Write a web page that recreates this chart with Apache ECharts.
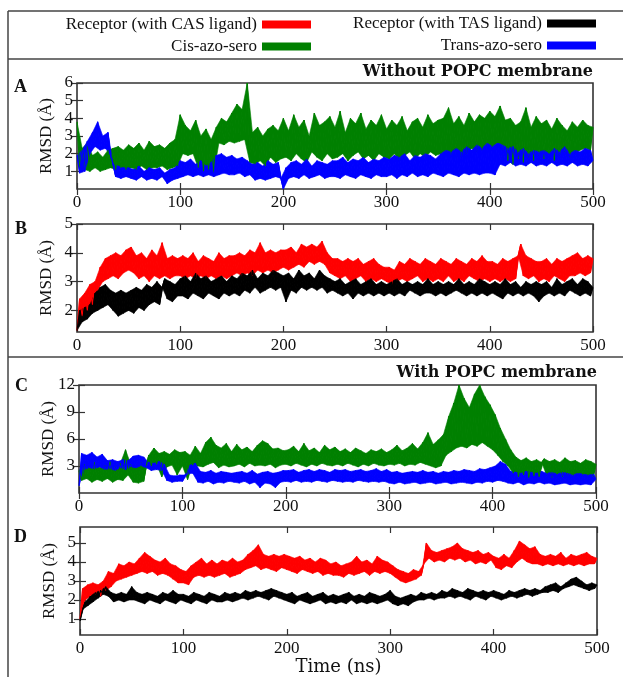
<!DOCTYPE html>
<html>
<head>
<meta charset="utf-8">
<title>RMSD</title>
<script src="https://cdn.jsdelivr.net/npm/echarts@6/dist/echarts.min.js"></script>
<style>
html,body{margin:0;padding:0;background:#fff;}
#chart{width:623px;height:677px;}
</style>
</head>
<body>
<div id="chart"></div>
<script>
/* time step of every series (ns) */
const STEP = 2.5;

const seriesNames = ["Receptor (with CAS ligand)", "Cis-azo-sero", "Receptor (with TAS ligand)", "Trans-azo-sero"];

/* A : without membrane, ligands */
const aCis = [
  3.8,1.2,2.3,1.1,2.6,1.0,1.9,1.2,2.1,1.0,1.8,1.1,2.2,1.2,2.3,1.1,2.4,1.2,2.2,1.1,
  2.5,1.2,2.3,1.1,2.6,1.3,2.2,1.1,2.7,1.2,2.4,1.2,2.5,1.3,2.3,1.1,2.6,1.2,2.8,1.3,
  4.2,2.0,3.6,1.9,3.3,2.0,3.9,1.2,3.0,1.0,3.4,1.1,2.8,0.9,3.5,2.6,4.0,2.5,3.8,2.7,
  4.3,2.6,4.8,2.7,4.5,2.8,6.0,1.5,3.2,1.4,3.5,1.6,3.0,1.3,3.4,1.8,3.6,1.5,3.3,1.7,
  4.0,1.8,3.3,1.6,4.2,2.0,3.5,1.7,3.9,1.5,3.0,2.1,4.3,1.8,3.6,1.6,3.8,2.0,4.1,1.7,
  3.5,1.8,4.4,2.0,3.2,1.6,4.0,1.9,3.7,2.1,4.3,1.7,3.4,1.9,3.9,1.6,3.6,2.0,4.2,1.8,
  3.4,1.7,3.9,2.0,3.6,1.6,4.1,1.9,3.3,2.1,3.8,1.7,4.0,2.0,3.5,1.8,4.2,2.1,3.7,1.9,
  3.9,2.0,4.0,2.1,4.6,1.9,3.7,2.2,4.1,1.8,3.6,2.0,4.3,2.3,3.8,2.1,4.2,2.2,4.0,2.4,
  4.4,2.3,4.1,2.6,4.7,2.2,3.9,1.6,4.0,1.4,3.6,1.7,3.8,1.5,4.6,1.8,3.5,1.6,4.1,1.9,
  3.7,1.7,3.9,2.0,3.4,1.6,4.0,1.9,3.6,2.1,3.3,1.8,3.8,2.0,3.5,2.2,3.9,2.3,3.6,2.2,
  3.5
];
const aTrans = [
  1.9,0.9,2.2,1.0,2.7,2.0,3.2,2.4,3.8,2.2,3.0,2.3,3.2,1.9,1.4,0.7,1.3,0.6,1.2,0.7,
  1.2,0.6,1.1,0.5,1.3,0.7,1.0,0.5,1.2,0.6,1.1,0.5,1.2,0.7,0.9,0.3,1.1,0.5,1.2,0.6,
  1.6,0.7,1.5,0.8,1.7,0.7,1.4,0.8,1.6,0.7,1.3,0.8,1.5,0.7,1.9,0.8,2.0,0.9,1.8,0.8,
  1.9,0.8,1.7,0.9,1.8,0.7,1.6,0.8,1.4,0.5,1.5,0.6,1.3,0.5,1.6,0.6,1.4,0.7,1.5,0.6,
  0.0,1.2,0.6,1.5,0.7,1.6,0.6,1.4,0.8,1.7,0.6,1.3,0.7,1.6,0.8,1.5,0.6,1.4,0.7,1.6,
  0.7,1.6,0.6,1.8,0.8,1.5,0.7,1.7,0.6,1.6,0.8,1.8,0.7,1.5,0.6,1.7,0.8,1.6,0.7,1.8,
  0.7,1.7,0.8,1.9,0.6,1.8,0.8,2.0,0.7,1.6,0.9,1.9,0.7,1.8,0.8,2.0,0.7,1.9,0.9,1.7,
  0.8,2.0,0.7,2.2,0.9,2.1,0.8,2.3,0.7,2.1,0.9,2.4,0.8,2.2,0.9,2.5,0.8,2.3,0.9,2.6,
  0.9,2.4,0.8,2.6,1.4,2.5,1.3,2.3,1.5,2.4,1.3,2.1,1.4,2.3,1.3,2.0,1.5,2.2,1.3,2.1,
  1.4,2.2,1.3,2.0,1.5,2.3,1.3,2.1,1.4,2.4,1.3,2.0,1.5,2.2,1.3,2.1,1.4,2.3,1.3,2.2,
  1.6
];

/* B : without membrane, receptors */
const bCas = [
  1.3,2.4,1.8,2.6,2.0,2.9,2.2,3.0,2.7,3.5,3.0,3.8,3.1,3.9,3.2,4.0,3.1,3.9,3.3,4.1,
  3.4,4.2,3.3,3.9,3.1,4.0,3.2,3.8,3.0,4.1,3.2,3.9,3.1,4.35,3.2,3.8,3.1,3.9,3.2,3.8,
  3.2,3.9,3.1,3.8,3.2,4.0,3.1,3.7,3.2,3.9,3.1,3.8,3.2,3.7,3.1,4.0,3.2,3.8,3.1,3.9,
  3.2,3.9,3.3,4.0,3.2,3.9,3.3,4.1,3.2,4.0,3.4,4.35,3.3,4.0,3.4,4.1,3.3,4.0,3.4,4.1,
  3.5,4.1,3.4,4.2,3.5,4.0,3.6,4.3,3.5,4.2,3.7,4.3,3.6,4.2,3.7,4.4,3.6,4.0,3.3,3.8,
  3.2,3.8,3.1,3.7,3.2,3.8,3.0,3.7,3.1,3.8,3.2,3.6,3.0,3.7,3.1,3.8,3.0,3.6,3.1,3.5,
  3.0,3.5,2.9,3.4,3.0,3.7,3.1,3.6,3.0,3.8,3.1,3.7,3.2,3.6,3.0,3.8,3.1,3.7,3.0,3.6,
  3.1,3.8,3.0,3.7,3.2,3.6,3.0,3.8,3.1,3.7,3.0,3.6,3.2,3.8,3.1,3.7,3.0,3.9,3.1,3.7,
  3.0,3.7,3.1,3.6,3.0,3.8,3.1,3.7,3.0,3.8,3.1,3.9,4.3,3.2,3.9,3.1,3.8,3.2,3.7,3.0,
  3.7,3.1,3.8,3.0,3.6,3.2,3.8,3.1,3.7,3.0,3.8,3.2,3.9,3.2,4.0,3.3,3.8,3.2,3.9,3.3,
  3.8
];
const bTas = [
  1.3,2.0,1.6,2.1,1.7,2.2,1.9,2.6,2.0,2.8,2.1,2.9,2.2,2.7,2.0,2.6,1.8,2.7,1.9,2.6,
  2.0,2.7,1.9,2.8,2.1,2.7,2.0,2.9,2.2,2.8,2.3,3.0,2.2,2.8,3.1,2.4,3.0,2.3,2.9,2.5,
  3.1,2.5,3.2,2.4,3.0,2.6,3.3,2.5,3.1,2.4,3.2,2.6,3.0,2.5,3.1,2.4,3.2,2.6,3.0,2.5,
  3.2,2.6,3.1,2.5,3.3,2.7,3.2,2.6,3.4,2.8,3.1,2.6,3.3,2.7,3.2,2.8,3.4,2.7,3.3,2.8,
  3.2,2.3,3.3,2.7,3.1,2.6,3.4,2.8,3.2,2.7,3.3,2.8,3.1,2.7,3.4,2.8,3.2,2.6,3.1,2.7,
  3.0,2.6,3.1,2.5,2.9,2.6,3.0,2.4,3.1,2.6,2.9,2.5,3.0,2.6,3.1,2.5,2.9,2.6,3.0,2.5,
  2.9,2.6,3.0,2.5,3.1,2.6,2.9,2.5,3.0,2.7,2.9,2.6,3.0,2.5,2.9,2.6,3.1,2.6,2.9,2.5,
  3.0,2.6,2.9,2.5,3.0,2.6,2.9,2.7,3.1,2.6,2.9,2.5,3.0,2.6,2.9,2.5,3.1,2.6,3.0,2.5,
  2.9,2.6,3.0,2.5,2.9,2.4,3.1,2.6,2.9,2.5,3.0,2.6,2.8,2.5,3.0,2.6,2.9,2.5,3.0,2.3,
  2.9,2.5,3.0,2.6,2.8,2.5,3.1,2.6,2.9,2.5,3.0,2.7,3.1,2.6,2.9,2.5,3.1,2.6,3.0,2.5,
  2.8
];

/* C : with POPC membrane, ligands */
const cCis = [
  2.5,1.4,3.2,1.6,3.0,1.2,3.4,1.5,2.8,1.3,3.1,1.6,3.5,1.2,2.9,1.5,3.3,1.4,4.8,2.0,
  3.2,1.2,2.8,1.1,3.4,1.3,3.0,4.2,3.0,5.0,3.2,4.4,1.8,4.6,2.9,4.3,3.1,4.8,2.0,4.5,
  3.0,4.6,1.5,4.2,3.1,5.2,3.0,4.4,2.9,5.6,3.2,6.2,3.4,5.3,2.8,5.0,3.1,5.5,2.9,4.6,
  3.0,5.4,3.2,4.8,2.9,5.1,3.3,4.6,3.0,5.3,3.1,5.8,3.0,5.5,3.2,4.9,2.8,5.0,3.1,4.7,
  3.2,4.8,3.0,5.2,3.3,4.6,3.1,5.5,2.9,4.7,3.2,5.0,3.0,4.5,3.3,5.3,3.1,4.8,3.0,5.1,
  3.2,4.6,3.0,4.9,3.3,4.5,3.1,5.0,2.9,4.7,3.2,4.4,3.0,4.8,3.3,4.6,3.1,4.9,3.0,4.5,
  3.2,4.8,3.1,5.3,3.3,4.7,3.0,5.0,3.2,5.5,3.1,4.9,3.4,5.6,3.2,6.7,3.0,5.4,2.8,5.9,
  3.0,6.5,4.2,8.5,4.6,10.0,5.0,12.0,5.2,10.5,5.0,9.5,5.4,11.0,5.2,12.0,5.6,10.7,5.2,9.8,
  4.8,8.7,4.2,7.2,3.5,6.0,3.0,4.8,2.2,4.0,1.8,3.6,2.0,3.9,1.7,3.5,1.9,3.7,1.8,3.4,
  3.8,1.9,3.5,1.7,3.7,2.0,3.4,1.8,3.9,1.9,3.5,1.7,3.6,2.0,3.3,1.8,3.7,1.9,3.5,1.8,
  3.2
];
const cTrans = [
  0.8,4.4,2.6,4.2,2.8,4.5,2.7,4.0,2.9,4.3,2.6,3.6,2.7,3.7,2.5,3.5,2.8,3.7,2.6,3.6,
  2.9,4.1,2.8,4.2,3.0,4.0,2.8,3.4,2.5,3.3,2.6,3.5,2.5,3.2,1.4,2.0,1.2,1.9,1.3,2.0,
  1.3,2.0,2.1,3.1,2.2,3.3,1.2,2.4,1.1,2.3,1.3,2.5,1.0,2.2,1.2,2.4,1.1,2.3,1.3,2.2,
  1.2,2.3,1.1,2.4,1.3,2.2,1.0,2.5,1.2,2.1,0.6,2.3,1.1,2.4,1.0,2.2,0.6,2.3,1.2,2.5,
  1.3,2.5,1.2,2.6,1.4,2.3,1.2,2.5,1.3,2.6,1.2,2.4,1.4,2.6,1.3,2.5,1.2,2.3,1.4,2.6,
  1.3,2.5,1.2,2.6,1.3,2.4,1.2,2.5,1.4,2.6,1.3,2.4,1.2,2.5,1.3,2.7,1.2,2.4,1.3,2.6,
  1.1,2.3,1.0,2.4,1.2,2.2,1.0,2.3,1.1,2.4,1.2,2.3,1.0,2.5,1.1,2.3,1.2,2.4,1.0,2.2,
  1.1,2.4,1.2,2.3,1.0,2.5,1.1,2.4,1.2,2.6,1.1,2.5,1.0,2.4,1.2,2.7,1.1,2.6,1.3,2.8,
  1.2,3.0,1.4,3.5,1.3,3.2,1.1,2.4,1.0,2.3,1.2,2.2,0.9,2.4,1.1,2.3,1.0,2.2,1.2,2.4,
  1.0,2.2,1.1,2.3,0.9,2.1,1.0,2.3,1.1,2.2,0.9,2.0,1.0,2.2,0.9,2.1,1.0,2.0,0.9,2.1,
  1.5
];

/* D : with POPC membrane, receptors */
const dCas = [
  1.0,2.6,2.0,2.8,2.2,2.9,2.3,2.8,2.2,3.0,2.5,3.5,2.7,3.4,3.0,3.9,3.1,3.8,3.2,4.0,
  3.3,3.9,3.4,4.2,3.5,4.5,3.4,4.3,3.5,4.1,3.3,4.0,3.4,4.2,3.3,3.9,3.1,3.8,2.9,3.6,
  2.9,3.5,2.8,3.8,3.2,4.0,3.3,4.2,3.2,3.9,3.3,4.1,3.2,3.9,3.3,4.1,3.4,4.0,3.2,4.2,
  3.3,4.0,3.4,4.1,3.6,4.4,3.7,4.6,3.8,4.9,3.6,4.4,3.7,4.3,3.6,4.4,3.5,4.3,3.7,4.4,
  3.6,4.3,3.5,4.2,3.4,4.3,3.6,4.1,3.5,4.2,3.4,4.0,3.5,4.2,3.3,4.1,3.4,3.9,3.3,4.0,
  3.3,3.8,3.2,3.9,3.4,4.0,3.3,4.3,3.4,4.0,3.5,4.1,3.3,3.9,3.5,4.3,3.4,4.1,3.5,4.0,
  3.4,3.8,3.2,3.6,3.0,3.5,2.9,3.4,3.0,3.6,3.1,3.5,3.3,3.9,5.0,4.2,4.6,4.0,4.5,4.1,
  4.6,4.0,4.7,4.2,4.8,4.1,5.0,4.2,4.7,4.0,4.6,4.1,4.5,3.9,4.6,4.0,4.4,3.9,4.5,4.1,
  4.3,3.7,4.2,3.6,4.4,3.8,4.2,3.7,4.6,4.0,5.1,4.2,4.9,4.0,4.7,3.9,4.8,3.9,4.4,3.8,
  4.3,3.9,4.4,3.8,4.3,3.9,4.5,3.8,4.2,3.9,4.4,3.8,4.3,3.9,4.4,3.8,4.5,3.9,4.3,3.9,
  4.2
];
const dTas = [
  0.9,1.5,1.9,1.7,2.2,1.9,2.4,2.1,2.5,2.3,2.7,2.2,2.4,1.9,2.3,2.0,2.4,1.9,2.3,2.0,
  2.7,2.0,2.4,1.9,2.3,1.8,2.4,2.0,2.3,1.9,2.2,1.8,2.4,2.0,2.3,1.9,2.5,1.8,2.3,2.0,
  2.3,1.9,2.2,1.8,2.4,2.0,2.3,1.9,2.2,1.8,2.4,2.0,2.3,1.9,2.2,1.9,2.4,2.0,2.3,1.9,
  2.4,2.0,2.3,2.1,2.5,2.0,2.4,2.1,2.5,2.2,2.4,2.1,2.5,2.0,2.6,2.2,2.5,2.1,2.4,2.0,
  2.3,1.9,2.4,1.8,2.2,2.0,2.3,1.9,2.4,1.8,2.2,1.9,2.3,2.0,2.4,1.8,2.2,1.9,2.3,1.8,
  2.2,1.9,2.3,1.8,2.4,2.0,2.2,1.8,2.3,1.9,2.2,1.8,2.4,1.9,2.3,1.8,2.2,1.9,2.3,2.0,
  2.5,1.8,2.2,1.7,2.1,1.8,2.2,1.7,2.3,1.9,2.2,2.0,2.4,2.0,2.3,2.1,2.4,2.0,2.3,2.1,
  2.5,2.1,2.4,2.2,2.6,2.1,2.5,2.2,2.4,2.1,2.6,2.0,2.5,2.2,2.4,2.1,2.5,2.0,2.4,2.2,
  2.5,2.1,2.4,2.0,2.3,2.1,2.5,2.2,2.4,2.1,2.5,2.2,2.6,2.3,2.5,2.2,2.6,2.3,2.5,2.4,
  2.7,2.4,2.8,2.5,2.9,2.4,2.7,2.6,2.9,2.7,3.1,2.8,3.2,2.7,3.0,2.6,2.8,2.5,2.9,2.6,
  2.8
];

/* tick labels */
const timeMax = 500, timeInterval = 100;
const yLabelsA = [1,2,3,4,5,6];
const yLabelsB = [2,3,4,5];
const yLabelsC = [3,6,9,12];
const yLabelsD = [1,2,3,4,5];

const colors = {cas:"#ff0000", cis:"#008000", tas:"#000000", trans:"#0000ff"};
const serif = "Liberation Serif";
const frameColor = "#333";

const chart = echarts.init(document.getElementById("chart"));

/* panel boxes */
const grids = [
	{left:77, top:83,  width:516, height:106},
	{left:77, top:224, width:516, height:108},
	{left:79, top:385, width:517, height:108},
	{left:80, top:527, width:517, height:108}
];
const yRanges = [
	{min:0, max:6, labels:yLabelsA},
	{min:1.25, max:5, labels:yLabelsB},
	{min:0, max:12, labels:yLabelsC},
	{min:0.16, max:5.84, labels:yLabelsD}
];

function toPoints(vals){
	return vals.map((v,i)=>[i*STEP, v]);
}

const xAxes = [], yAxes = [];
grids.forEach((g,i)=>{
	const tick = {show:true, inside:true, length:6, lineStyle:{color:frameColor, width:1.2}};
	xAxes.push({
		type:"value", gridIndex:i, min:0, max:timeMax, interval:timeInterval,
		axisLine:{show:false}, splitLine:{show:false}, axisTick:tick,
		axisLabel:{margin:5, fontFamily:serif, fontSize:17, color:"#111"},
		name: i===3 ? "Time (ns)" : "", nameLocation:"middle", nameGap:23, nameMoveOverlap:false,
		nameTextStyle:{fontFamily:"DejaVu Serif", fontSize:18, color:"#111"}
	});
	xAxes.push({
		type:"value", gridIndex:i, position:"top", min:0, max:timeMax, interval:timeInterval,
		axisLine:{show:false}, splitLine:{show:false}, axisTick:tick, axisLabel:{show:false}
	});
	const r = yRanges[i];
	yAxes.push({
		type:"value", gridIndex:i, min:r.min, max:r.max,
		axisLine:{show:false}, splitLine:{show:false},
		axisTick:Object.assign({customValues:r.labels}, tick),
		axisLabel:{customValues:r.labels, margin:4, fontFamily:serif, fontSize:17, color:"#111"},
		name:"RMSD (Å)", nameLocation:"middle", nameGap:22, nameMoveOverlap:false,
		nameTextStyle:{fontFamily:serif, fontSize:17, color:"#111"}
	});
	yAxes.push({
		type:"value", gridIndex:i, position:"right", min:r.min, max:r.max,
		axisLine:{show:false}, splitLine:{show:false},
		axisTick:Object.assign({customValues:r.labels}, tick), axisLabel:{show:false}
	});
});

/*
 * the noisy trace is drawn twice: a filled band made of the triangles
 * between neighbouring samples (so it reads as a dense trace), then the
 * sample line itself on top
 */
function band(name, vals, color, panel){
	return {
		type:"custom", name, data:toPoints(vals),
		xAxisIndex:panel*2, yAxisIndex:panel*2,
		encode:{x:0, y:1}, silent:true, clip:true,
		itemStyle:{color},
		renderItem(params, api){
			const i = params.dataIndex;
			if(i===0 || i===vals.length-1) return null;
			const pts = [i-1,i,i+1].map(k=>api.coord([k*STEP, vals[k]]));
			return {type:"polygon", shape:{points:pts},
				style:{fill:color, stroke:color, lineWidth:0.6}};
		}
	};
}

function line(name, vals, color, panel){
	return {
		type:"line", name, data:toPoints(vals),
		xAxisIndex:panel*2, yAxisIndex:panel*2,
		showSymbol:false, symbol:"none", silent:true,
		lineStyle:{color, width:1.1}, itemStyle:{color}
	};
}

function trace(name, vals, color, panel){
	return [band(name, vals, color, panel), line(name, vals, color, panel)];
}

const series = [].concat(
	trace(seriesNames[1], aCis, colors.cis, 0),
	trace(seriesNames[3], aTrans, colors.trans, 0),
	trace(seriesNames[0], bCas, colors.cas, 1),
	trace(seriesNames[2], bTas, colors.tas, 1),
	trace(seriesNames[1], cCis, colors.cis, 2),
	trace(seriesNames[3], cTrans, colors.trans, 2),
	trace(seriesNames[0], dCas, colors.cas, 3),
	trace(seriesNames[2], dTas, colors.tas, 3)
);

function legendItem(name, right, top){
	return {
		data:[name], right, top, padding:0, align:"right", icon:"rect",
		itemWidth:49, itemHeight:8, selectedMode:false,
		textStyle:{fontFamily:serif, fontSize:17, color:"#111"}
	};
}

function label(text, opt){
	return Object.assign({text, padding:0,
		textStyle:{fontFamily:opt.font||serif, fontSize:opt.size||18, fontWeight:"bold", color:"#111"}}, opt.pos);
}

const frame = {stroke:"#444", lineWidth:1.5};

chart.setOption({
	animation:false,
	backgroundColor:"#fff",
	grid:grids.map(g=>Object.assign({show:true, borderColor:frameColor, borderWidth:1.6, backgroundColor:"transparent"}, g)),
	xAxis:xAxes,
	yAxis:yAxes,
	legend:[
		legendItem(seriesNames[0], 312, 16),
		legendItem(seriesNames[1], 312, 38),
		legendItem(seriesNames[2], 27, 15),
		legendItem(seriesNames[3], 27, 37)
	],
	title:[
		label("Without POPC membrane", {font:"DejaVu Serif", size:16, pos:{right:30, top:64}}),
		label("With POPC membrane", {font:"DejaVu Serif", size:16, pos:{right:26, top:365}}),
		label("A", {pos:{left:14, top:78}}),
		label("B", {pos:{left:15, top:220}}),
		label("C", {pos:{left:15, top:377}}),
		label("D", {pos:{left:14, top:528}})
	],
	graphic:[
		{type:"line", shape:{x1:8, y1:11, x2:623, y2:11}, style:frame},
		{type:"line", shape:{x1:8, y1:59, x2:623, y2:59}, style:frame},
		{type:"line", shape:{x1:8, y1:357, x2:623, y2:357}, style:frame},
		{type:"line", shape:{x1:8, y1:11, x2:8, y2:677}, style:frame}
	],
	series
});
</script>
</body>
</html>
